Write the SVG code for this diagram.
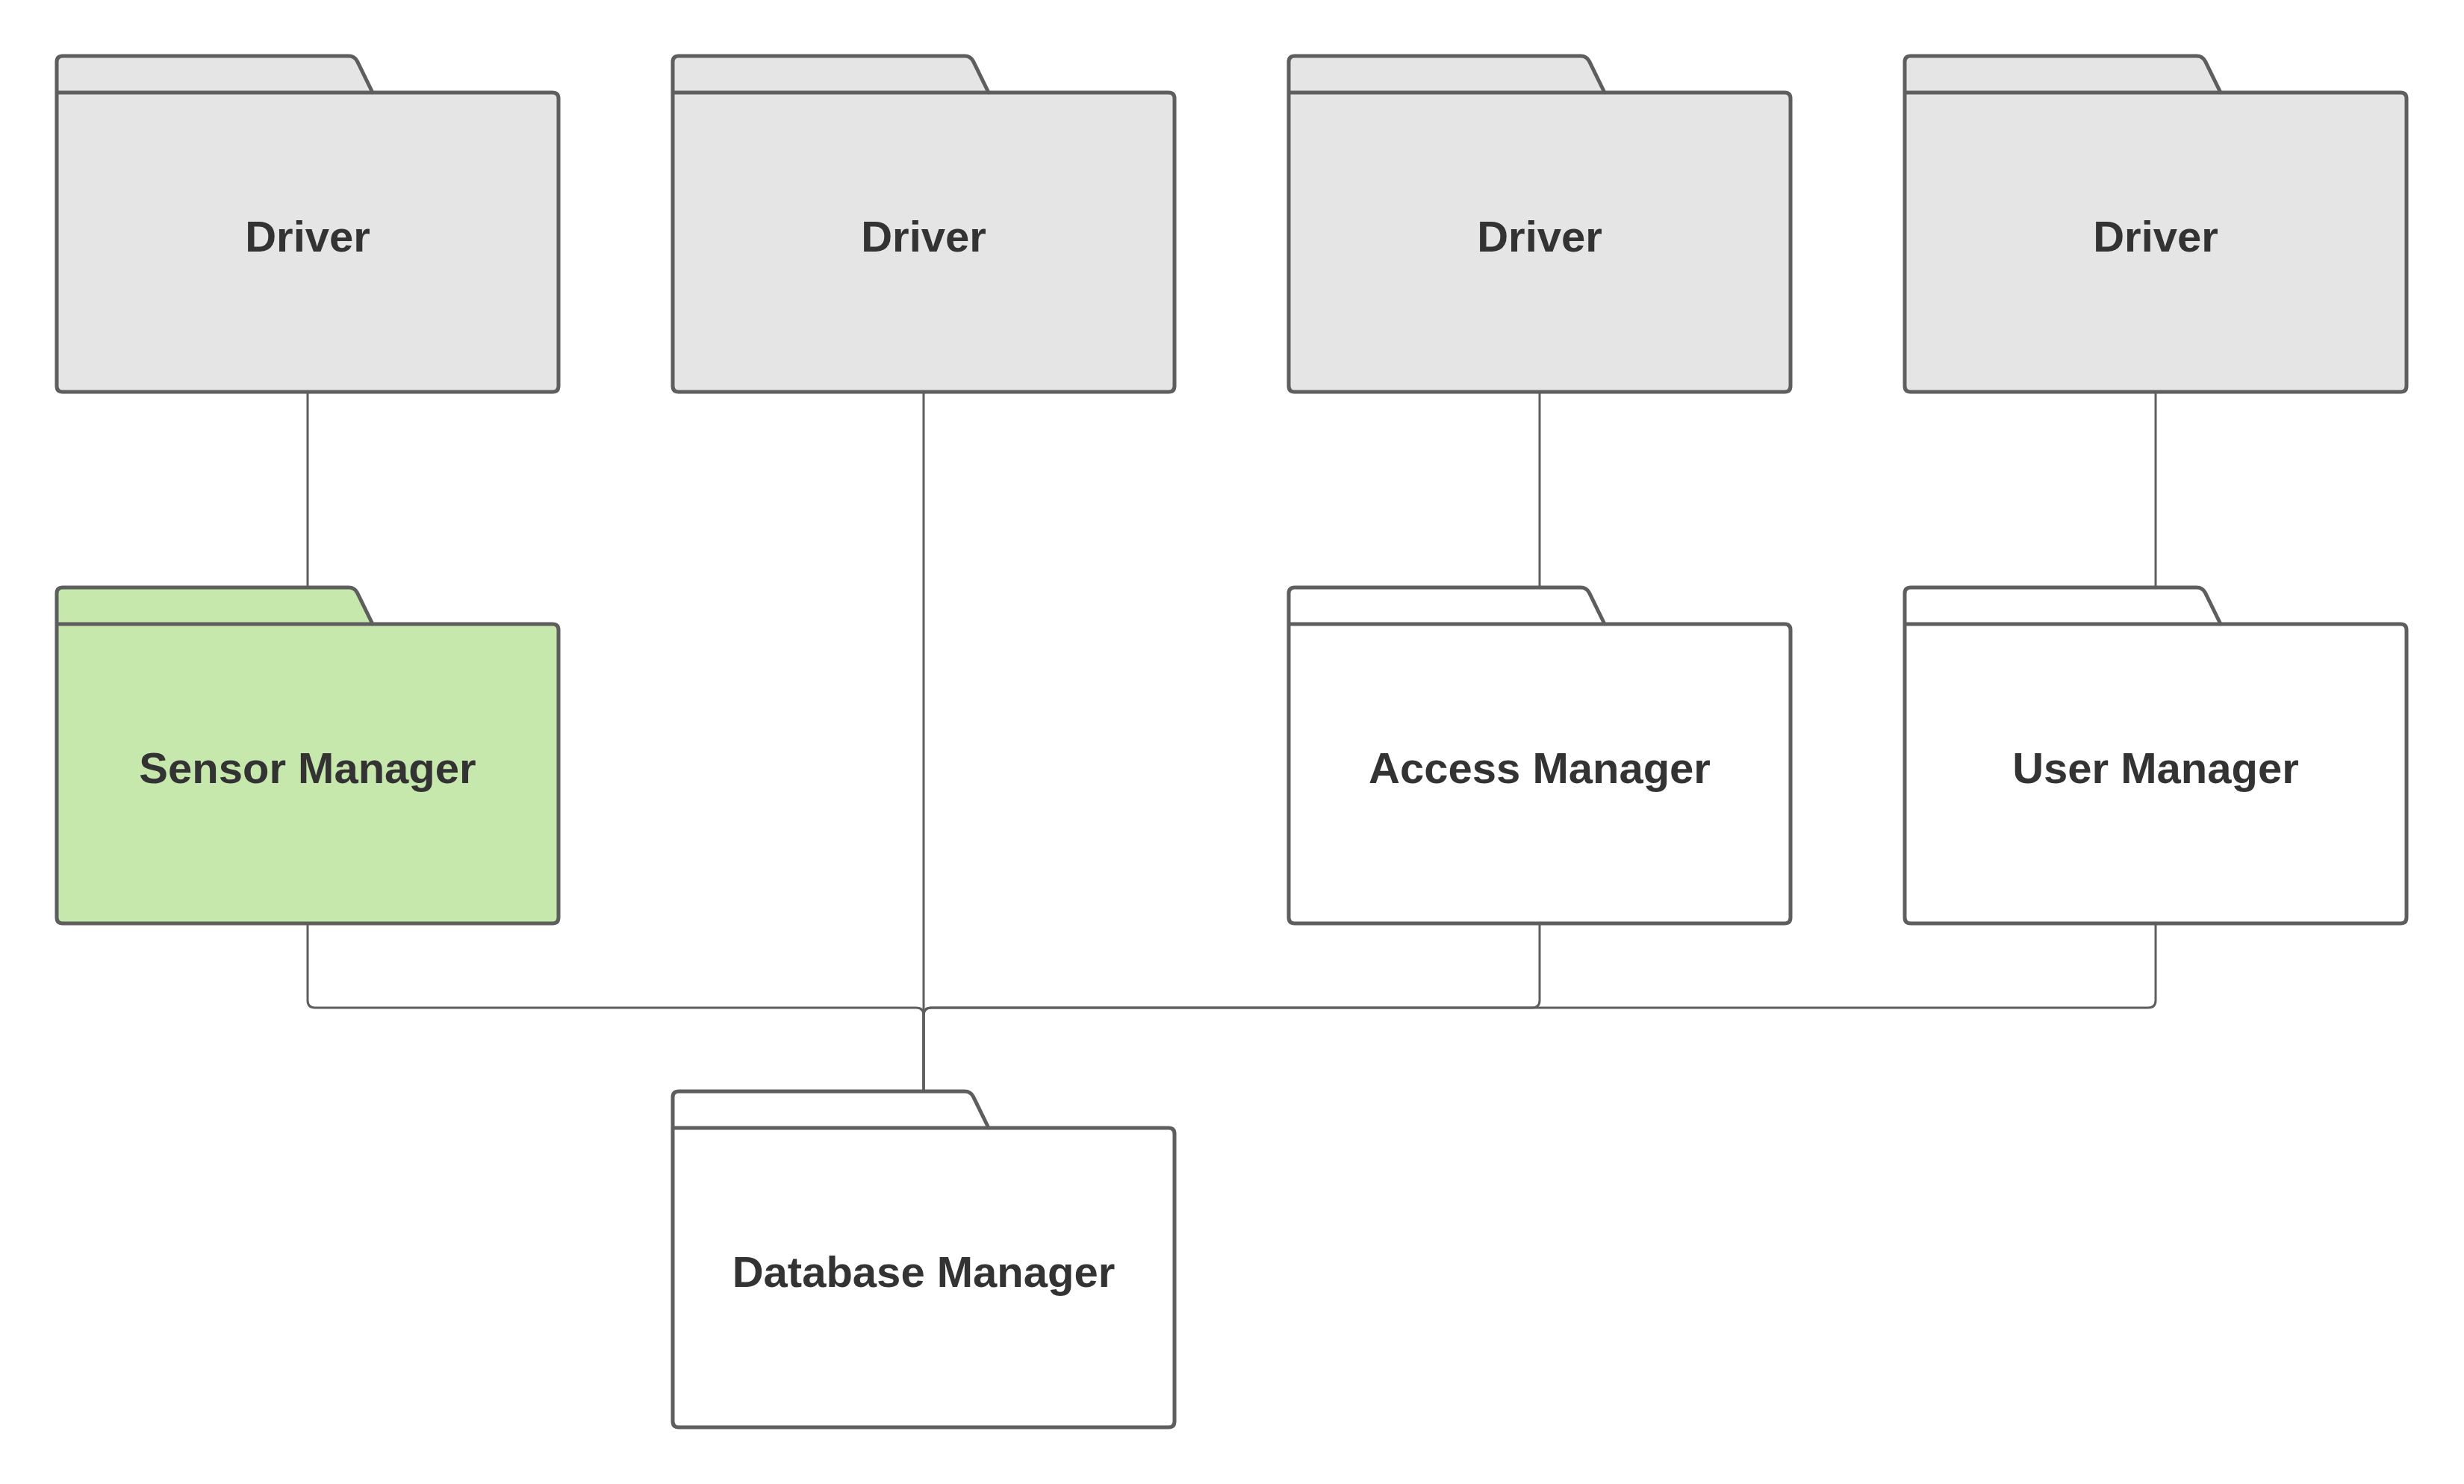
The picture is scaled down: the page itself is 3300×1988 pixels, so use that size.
<svg xmlns="http://www.w3.org/2000/svg" width="3300" height="1988" viewBox="0 0 3300 1988">
<defs>
<style>
.bg{fill:#ffffff}
.conn{fill:none;stroke:#5e5e5e;stroke-width:3;stroke-linejoin:round}
.outline{stroke:#5e5e5e;stroke-width:5;stroke-linejoin:round}
.sep{fill:none;stroke:#5e5e5e;stroke-width:5}
.gray{fill:#e5e5e5}
.green{fill:#c7e8ac}
.white{fill:#ffffff}
.label{font-family:"Liberation Sans",Arial,sans-serif;font-weight:bold;font-size:58px;fill:#333333;text-anchor:middle}
</style>
<path id="folder" d="M0,442 V8 Q0,0 8,0 H391 Q399,0 402.5,7.2 L423,49 H664 Q672,49 672,57 V442 Q672,450 664,450 H8 Q0,450 0,442 Z"/>
</defs>
<rect class="bg" x="0" y="0" width="3300" height="1988"/>
<g id="connectors">
<path class="conn" d="M412,525 V787"/>
<path class="conn" d="M2062,525 V787"/>
<path class="conn" d="M2887,525 V787"/>
<path class="conn" d="M1237,525 V1462"/>
<path class="conn" d="M412,1237 V1340 Q412,1350 422,1350 H1227 Q1237,1350 1237,1360 V1462"/>
<path class="conn" d="M2062,1237 V1340 Q2062,1350 2052,1350 H1247 Q1237,1350 1237,1360 V1462"/>
<path class="conn" d="M2887,1237 V1340 Q2887,1350 2877,1350 H1247 Q1237,1350 1237,1360 V1462"/>
</g>
<g id="driver1" transform="translate(76,75)">
<use href="#folder" class="outline gray"/><path class="sep" d="M0,49 H423"/>
<text class="label" x="336" y="262">Driver</text>
</g>
<g id="driver2" transform="translate(901,75)">
<use href="#folder" class="outline gray"/><path class="sep" d="M0,49 H423"/>
<text class="label" x="336" y="262">Driver</text>
</g>
<g id="driver3" transform="translate(1726,75)">
<use href="#folder" class="outline gray"/><path class="sep" d="M0,49 H423"/>
<text class="label" x="336" y="262">Driver</text>
</g>
<g id="driver4" transform="translate(2551,75)">
<use href="#folder" class="outline gray"/><path class="sep" d="M0,49 H423"/>
<text class="label" x="336" y="262">Driver</text>
</g>
<g id="sensor-manager" transform="translate(76,787)">
<use href="#folder" class="outline green"/><path class="sep" d="M0,49 H423"/>
<text class="label" x="336" y="262">Sensor Manager</text>
</g>
<g id="access-manager" transform="translate(1726,787)">
<use href="#folder" class="outline white"/><path class="sep" d="M0,49 H423"/>
<text class="label" x="336" y="262">Access Manager</text>
</g>
<g id="user-manager" transform="translate(2551,787)">
<use href="#folder" class="outline white"/><path class="sep" d="M0,49 H423"/>
<text class="label" x="336" y="262">User Manager</text>
</g>
<g id="database-manager" transform="translate(901,1462)">
<use href="#folder" class="outline white"/><path class="sep" d="M0,49 H423"/>
<text class="label" x="336" y="262">Database Manager</text>
</g>
</svg>
